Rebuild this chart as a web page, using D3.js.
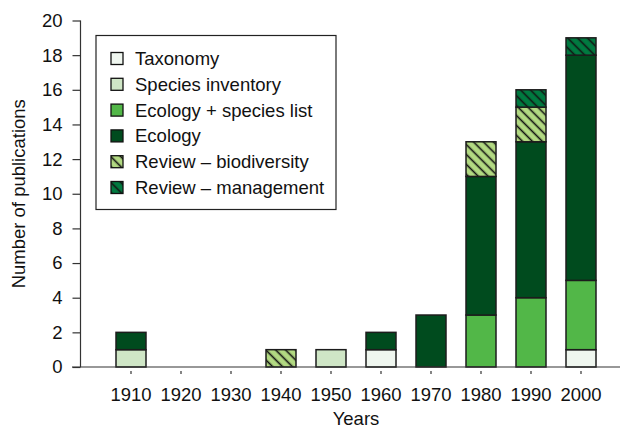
<!DOCTYPE html>
<html>
<head>
<meta charset="utf-8">
<script src="https://cdn.jsdelivr.net/npm/d3@7"></script>
<style>
  body { margin: 0; background: #fff; }
  text { font-family: "Liberation Sans", Arial, sans-serif; fill: #111; }
</style>
</head>
<body>
<div id="chart"></div>
<script>
// data
var decades = ["1910","1920","1930","1940","1950","1960","1970","1980","1990","2000"];
var categories = ["Taxonomy","Species inventory","Ecology + species list","Ecology","Review \u2013 biodiversity","Review \u2013 management"];
var taxonomy      = [0,0,0,0,0,1,0,0,0,1];
var inventory     = [1,0,0,0,1,0,0,0,0,0];
var ecoSpecies    = [0,0,0,0,0,0,0,3,4,4];
var ecology       = [1,0,0,0,0,1,3,8,9,13];
var reviewBio     = [0,0,0,1,0,0,0,2,2,0];
var reviewMgmt    = [0,0,0,0,0,0,0,0,1,1];
var yTicks = [0,2,4,6,8,10,12,14,16,18,20];

var fills = ["#eff6ef","#cfe6c6","#52b748","#004b1e","#b2d982","#007a40"];
var hatched = [false,false,false,false,true,true];

var series = [taxonomy, inventory, ecoSpecies, ecology, reviewBio, reviewMgmt];
var rows = decades.map(function(d, i) {
  var r = {decade: d};
  categories.forEach(function(c, j) { r[c] = series[j][i]; });
  return r;
});

var W = 625, H = 430;
var fs = "18.5px";
var svg = d3.select("#chart").append("svg")
  .attr("width", W).attr("height", H);

// hatch patterns
var defs = svg.append("defs");
categories.forEach(function(c, j) {
  if (!hatched[j]) return;
  var p = defs.append("pattern")
    .attr("id", "hatch" + j)
    .attr("patternUnits", "userSpaceOnUse")
    .attr("width", 7).attr("height", 7)
    .attr("patternTransform", "rotate(45)");
  p.append("rect").attr("width", 7).attr("height", 7).attr("fill", fills[j]);
  p.append("line").attr("x1", 0).attr("x2", 7).attr("y1", 3.5).attr("y2", 3.5)
    .attr("stroke", "#111").attr("stroke-width", 1.6);
});
function fillOf(j) { return hatched[j] ? "url(#hatch" + j + ")" : fills[j]; }

var x = d3.scaleBand().domain(decades).range([106, 606]).paddingInner(0.4).paddingOuter(0.2);
var y = d3.scaleLinear().domain([0, 20]).range([367, 20.5]);

var stack = d3.stack().keys(categories)(rows);

// bars
svg.append("g").selectAll("g")
  .data(stack).enter().append("g")
  .attr("fill", function(d, j) { return fillOf(j); })
  .selectAll("rect")
  .data(function(d) { return d.filter(function(v) { return v[1] > v[0]; }); })
  .enter().append("rect")
    .attr("x", function(d) { return x(d.data.decade); })
    .attr("y", function(d) { return y(d[1]); })
    .attr("width", x.bandwidth())
    .attr("height", function(d) { return y(d[0]) - y(d[1]); })
    .attr("stroke", "#1c1c1c")
    .attr("stroke-width", 1.5);

// y axis
var yAxis = svg.append("g")
  .attr("transform", "translate(80.5,0)")
  .call(d3.axisLeft(y).tickValues(yTicks).tickSize(8).tickPadding(10));
yAxis.selectAll("text").style("font-size", fs).attr("fill", "#111")
  .style("font-family", "'Liberation Sans', Arial, sans-serif");
yAxis.selectAll("line, path").attr("stroke", "#333").attr("stroke-width", 1.2);
yAxis.select(".domain").attr("d", "M0," + y(20) + "V" + y(0));

// x axis
var xAxis = svg.append("g")
  .attr("transform", "translate(0," + y(0) + ")")
  .call(d3.axisBottom(x).tickSize(7).tickPadding(14));
xAxis.select(".domain").attr("d", "M72,0H620");
xAxis.selectAll("text").style("font-size", fs).attr("fill", "#111")
  .style("font-family", "'Liberation Sans', Arial, sans-serif");
xAxis.selectAll("line, path").attr("stroke", "#333").attr("stroke-width", 1.2);
xAxis.selectAll(".tick line").attr("y1", 4);

// axis titles
svg.append("text")
  .attr("x", 356).attr("y", 425)
  .attr("text-anchor", "middle")
  .style("font-size", fs)
  .text("Years");
svg.append("text")
  .attr("transform", "translate(25," + y(10) + ") rotate(-90)")
  .attr("text-anchor", "middle")
  .style("font-size", fs)
  .text("Number of publications");

// legend
var legend = svg.append("g");
legend.append("rect")
  .attr("x", 96).attr("y", 35.5).attr("width", 240).attr("height", 174)
  .attr("fill", "#fff").attr("stroke", "#222").attr("stroke-width", 1.2);
var item = legend.selectAll("g.item")
  .data(categories).enter().append("g")
  .attr("class", "item")
  .attr("transform", function(d, j) { return "translate(111," + (58.5 + j * 25.8) + ")"; });
item.append("rect")
  .attr("x", 0).attr("y", -6).attr("width", 12).attr("height", 12)
  .attr("fill", function(d, j) { return fillOf(j); })
  .attr("stroke", "#111").attr("stroke-width", 1.3);
item.append("text")
  .attr("x", 24).attr("y", 6.5)
  .style("font-size", fs)
  .text(function(d) { return d; });
</script>
</body>
</html>
